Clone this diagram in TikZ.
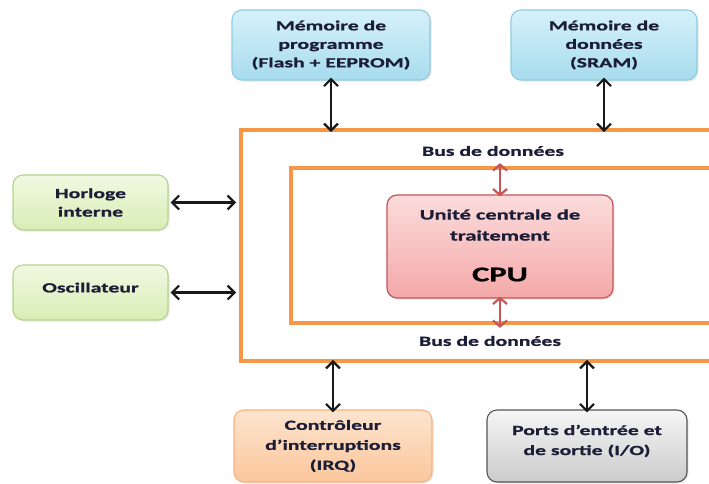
\documentclass[tikz,border=0pt]{standalone}
\usepackage{fontspec}
\setmainfont{Carlito}[FakeStretch=1.55,BoldFeatures={FakeBold=1}]
\usetikzlibrary{arrows.meta,shadows}
\definecolor{txt}{HTML}{1C1E38}
\definecolor{orangeline}{HTML}{F79646}
\definecolor{cpured}{HTML}{C75556}
\definecolor{bluetop}{HTML}{D6F1FA}
\definecolor{bluebot}{HTML}{A7DCEE}
\definecolor{blueline}{HTML}{8ECCE2}
\definecolor{greentop}{HTML}{F1F9E2}
\definecolor{greenbot}{HTML}{D8EDB5}
\definecolor{greenline}{HTML}{B2D58A}
\definecolor{orgtop}{HTML}{FDE4CF}
\definecolor{orgbot}{HTML}{FBC69B}
\definecolor{orgline}{HTML}{F9B27F}
\definecolor{graytop}{HTML}{F6F6F6}
\definecolor{graybot}{HTML}{CBCBCB}
\definecolor{grayline}{HTML}{555555}
\definecolor{cputop}{HTML}{FBDCDB}
\definecolor{cpubot}{HTML}{F4A8A8}
\tikzset{
  blk/.style={draw, line width=1.1pt, rounded corners=10pt, align=center,
    font=\fontsize{14}{18.5}\selectfont\bfseries, text=txt,
    drop shadow={shadow xshift=1.5pt, shadow yshift=-1.5pt, opacity=.18}},
  memblk/.style={blk, draw=blueline, top color=bluetop, bottom color=bluebot},
  greenblk/.style={blk, draw=greenline, top color=greentop, bottom color=greenbot},
  irqblk/.style={blk, draw=orgline, top color=orgtop, bottom color=orgbot, font=\fontsize{14}{20}\selectfont\bfseries},
  ioblk/.style={blk, draw=grayline, top color=graytop, bottom color=graybot},
  cpublk/.style={blk, draw=cpured, line width=1.2pt, top color=cputop, bottom color=cpubot},
  blktext/.style={align=center, text=txt, font=\fontsize{14}{20}\selectfont\bfseries},
  busbox/.style={draw=orangeline, line width=3.8pt, inner sep=0pt},
  biarrow/.style={{Straight Barb[length=7pt,width=14pt,line width=2.2pt]}-{Straight Barb[length=7pt,width=14pt,line width=2.2pt]}, line width=2.5pt, black!90},
  redarrow/.style={{Straight Barb[length=6pt,width=14pt,line width=2.2pt]}-{Straight Barb[length=6pt,width=14pt,line width=2.2pt]}, line width=2.6pt, cpured},
  buslabel/.style={font=\fontsize{14}{16}\selectfont\bfseries, text=txt}
}
\begin{document}
\begin{tikzpicture}[x=1pt,y=-1pt]
\useasboundingbox (0,0) rectangle (709,483);
\clip (0,0) rectangle (709,483);
\fill[white] (0,0) rectangle (709,483);
% bus rectangles
\node[busbox, minimum width=480pt, minimum height=231pt] (outer) at (481,245.5) {};
\node[busbox, minimum width=430pt, minimum height=155pt] (inner) at (506,245.5) {};
\node[buslabel] (busT) at (493,151) {Bus de données};
\node[buslabel] (busB) at (490,341) {Bus de données};
% memories
\node[memblk, minimum width=198pt, minimum height=70pt] (pm) at (331,45) {Mémoire de\\programme\\(Flash + EEPROM)};
\node[memblk, minimum width=186pt, minimum height=70pt] (dm) at (604,45) {Mémoire de\\données\\(SRAM)};
% left blocks
\node[greenblk, minimum width=155pt, minimum height=55pt] (clk) at (90.5,202.5) {Horloge\\interne};
\node[greenblk, minimum width=155pt, minimum height=55pt, text depth=10pt] (osc) at (90.5,292.5) {Oscillateur};
% CPU
\node[cpublk, minimum width=226pt, minimum height=103pt] (cpu) at (500,246.5) {};
\node[blktext, font=\fontsize{14.5}{21}\selectfont\bfseries] (cputxt) at (500,225) {Unité centrale de\\traitement};
\node[font=\fontsize{21}{24}\selectfont\bfseries, text=black] (cpulbl) at (500,274.5) {CPU};
% bottom blocks
\node[irqblk, minimum width=198pt, minimum height=72pt] (irq) at (333,446) {Contrôleur\\d’interruptions\\(IRQ)};
\node[ioblk, minimum width=200pt, minimum height=72pt] (io) at (587,446) {};
\node[blktext] (iotxt) at (587,441) {Ports d’entrée et\\de sortie (I/O)};
% connectors
\draw[biarrow] ([yshift=3pt]pm.south) -- ([yshift=-4pt]pm.south |- outer.north);
\draw[biarrow] ([yshift=3pt]dm.south) -- ([yshift=-4pt]dm.south |- outer.north);
\draw[biarrow] ([xshift=2pt]clk.east) -- ([xshift=-3pt]clk.east -| outer.west);
\draw[biarrow] ([xshift=2pt]osc.east) -- ([xshift=-3pt]osc.east -| outer.west);
\draw[biarrow] ([yshift=-3pt]irq.north) -- ([yshift=3pt]irq.north |- outer.south);
\draw[biarrow] ([yshift=-3pt]io.north) -- ([yshift=3pt]io.north |- outer.south);
\draw[redarrow] ([yshift=3pt]cpu.north |- inner.north) -- ([yshift=-2pt]cpu.north);
\draw[redarrow] ([yshift=2pt]cpu.south) -- ([yshift=-3pt]cpu.south |- inner.south);
\end{tikzpicture}
\end{document}
